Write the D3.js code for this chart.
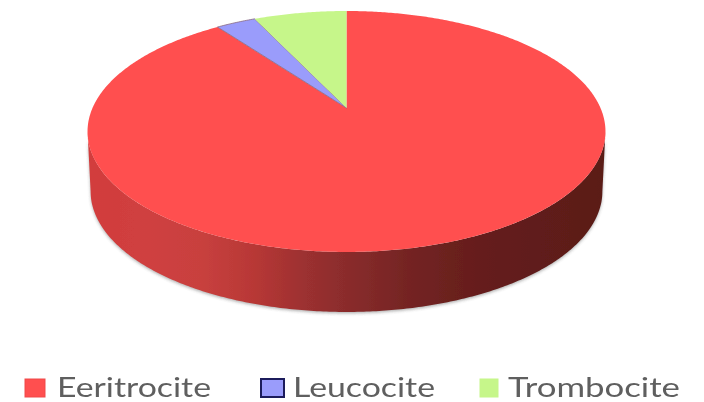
<!DOCTYPE html>
<html>
<head>
<meta charset="utf-8">
<script src="https://cdn.jsdelivr.net/npm/d3@7"></script>
<style>
  html, body { margin: 0; padding: 0; background: #fff; }
</style>
</head>
<body>
<div id="chartContainer"></div>
<script>
const categories = ["Eeritrocite", "Leucocite", "Trombocite"];
const values = [90, 3, 7];
const colors = ["#ff4f4f", "#9a9cfb", "#c6f68a"];
const swatchBorders = ["#f04a4a", "#1c1c5c", "#c6f68a"];

const width = 704;
const height = 402;

// Perspective of the disc: apex point, half axes and tilt
const apexX = 346.5;
const apexY = 108;
const semiX = 254;
const semiY = 115.9;
const tilt = 0.195;
const depth = 60;
const bottomShrink = 0.988;

// Turns an angle on the flat pie (0 = 12 o'clock, clockwise) into a screen point
function project(angle, radius = 1) {
  const u = radius * Math.sin(angle);
  const v = radius * Math.cos(angle);
  const w = 1 + tilt * v;
  return [apexX + semiX * u / w, apexY - semiY * v / w];
}

function rimPoints(a0, a1) {
  const n = Math.max(2, Math.ceil(Math.abs(a1 - a0) / 0.01));
  return d3.range(n + 1).map(i => project(a0 + (a1 - a0) * i / n));
}

const line = d3.line();

const svg = d3.select("#chartContainer").append("svg")
  .attr("width", width)
  .attr("height", height)
  .attr("viewBox", [0, 0, width, height])
  .style("display", "block");

const defs = svg.append("defs");

const soft = defs.append("filter").attr("id", "soft");
soft.append("feGaussianBlur").attr("stdDeviation", 0.6);

const edgeShadow = defs.append("filter").attr("id", "edgeShadow")
  .attr("x", "-5%").attr("y", "-5%").attr("width", "110%").attr("height", "115%");
edgeShadow.append("feGaussianBlur").attr("stdDeviation", 1.6);

// Side wall gradient, lit from the left
const wallStops = [
  [0, "#d23c3c"], [0.12, "#cf4040"], [0.22, "#c8403e"], [0.32, "#b83836"],
  [0.42, "#9c3030"], [0.5, "#8a2c2c"], [0.62, "#742423"], [0.75, "#661e1c"], [1, "#5a1a18"]
];
const wallGradient = defs.append("linearGradient").attr("id", "wall");
wallGradient.selectAll("stop").data(wallStops).join("stop")
  .attr("offset", d => d[0])
  .attr("stop-color", d => d[1]);

const pie = d3.pie().sort(null)(values);

const chart = svg.append("g").attr("filter", "url(#soft)");

// The front half of the rim runs between the two widest points of the ellipse
const sideAngle = Math.acos(-tilt);
const frontRim = rimPoints(sideAngle, 2 * Math.PI - sideAngle);
const centerX = apexX;
const lowerRim = frontRim.map(p => [
  centerX + (p[0] - centerX) * bottomShrink,
  p[1] + depth
]);
const wallPath = line(frontRim.concat(lowerRim.reverse())) + "Z";

chart.append("path")
  .attr("d", wallPath)
  .attr("fill", "#5a5a5a")
  .attr("opacity", 0.45)
  .attr("transform", "translate(0,1.5)")
  .attr("filter", "url(#edgeShadow)");

chart.append("path")
  .attr("d", wallPath)
  .attr("fill", "url(#wall)");

// Top of the disc
chart.selectAll("path.slice").data(pie).join("path")
  .attr("class", "slice")
  .attr("d", d => line([[apexX, apexY]].concat(rimPoints(d.startAngle, d.endAngle))) + "Z")
  .attr("fill", (d, i) => colors[i])
  .attr("stroke", (d, i) => i === 1 ? "#8a6a80" : "none")
  .attr("stroke-width", 0.8);

// Legend
const swatchX = [25, 261, 480];
const swatchW = [20, 23, 18];
const labelX = [57, 293, 508];
const labelW = [154, 142, 172];

const legend = svg.append("g").attr("filter", "url(#soft)");

legend.selectAll("rect").data(categories).join("rect")
  .attr("x", (d, i) => swatchX[i])
  .attr("y", 379)
  .attr("width", (d, i) => swatchW[i])
  .attr("height", 18)
  .attr("fill", (d, i) => colors[i])
  .attr("stroke", (d, i) => swatchBorders[i])
  .attr("stroke-width", (d, i) => i === 1 ? 2 : 1);

legend.selectAll("text").data(categories).join("text")
  .attr("x", (d, i) => labelX[i])
  .attr("y", 397)
  .attr("textLength", (d, i) => labelW[i])
  .attr("lengthAdjust", "spacingAndGlyphs")
  .attr("font-family", "Lato, 'Open Sans', sans-serif")
  .attr("font-size", 26)
  .attr("fill", "#5f5f5f")
  .text(d => d);
</script>
</body>
</html>
